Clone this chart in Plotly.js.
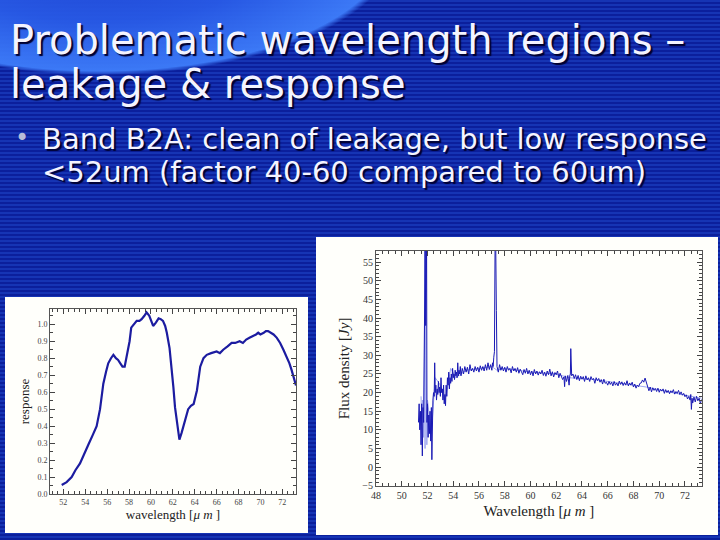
<!DOCTYPE html>
<html>
<head>
<meta charset="utf-8">
<script src="https://cdn.plot.ly/plotly-3.0.1.min.js"></script>
<style>
  html, body { margin:0; padding:0; }
  #slide {
    width:720px; height:540px; position:relative; overflow:hidden;
    background:
      radial-gradient(ellipse 300px 133px at 100px -58px, rgba(28,62,205,0.95) 0%, rgba(40,90,230,0.95) 60%, rgba(62,125,250,0.95) 97%, rgba(0,0,0,0) 100%),
      repeating-linear-gradient(to bottom, #1634b4 0px, #1634b4 2px, #0b1f9c 2px, #0b1f9c 4px);
  }
  #chart { position:absolute; left:0; top:0; width:720px; height:540px; }
</style>
</head>
<body>
<div id="slide"><div id="chart"></div></div>
<script>
// left panel: relative spectral response
const respX = [51.85, 52.3, 52.76, 53.1, 53.52, 53.9, 54.28, 54.7, 55.04, 55.35, 55.65, 55.9, 56.1, 56.35, 56.57, 56.8, 57.0, 57.2, 57.4, 57.6, 57.75, 57.9, 58.05, 58.2, 58.45, 58.7, 58.95, 59.15, 59.4, 59.6, 59.85, 60.05, 60.2, 60.45, 60.7, 60.9, 61.1, 61.3, 61.45, 61.7, 61.9, 62.05, 62.2, 62.4, 62.6, 62.8, 62.96, 63.2, 63.4, 63.65, 63.9, 64.2, 64.5, 64.8, 65.1, 65.5, 66.0, 66.3, 66.6, 67.0, 67.37, 67.7, 68.1, 68.4, 68.7, 69.0, 69.35, 69.6, 69.8, 70.0, 70.3, 70.5, 70.7, 70.95, 71.2, 71.5, 71.8, 72.1, 72.4, 72.65, 72.85, 73.05, 73.25];
const respY = [0.053, 0.07, 0.10, 0.14, 0.18, 0.23, 0.29, 0.35, 0.40, 0.50, 0.65, 0.72, 0.77, 0.80, 0.82, 0.80, 0.79, 0.77, 0.75, 0.75, 0.80, 0.85, 0.90, 0.98, 1.00, 1.02, 1.02, 1.03, 1.05, 1.07, 1.05, 1.01, 0.99, 1.01, 1.035, 1.03, 1.02, 0.99, 0.95, 0.86, 0.75, 0.63, 0.51, 0.40, 0.32, 0.36, 0.40, 0.45, 0.50, 0.52, 0.53, 0.61, 0.75, 0.80, 0.82, 0.83, 0.84, 0.83, 0.85, 0.87, 0.89, 0.89, 0.90, 0.89, 0.91, 0.92, 0.93, 0.94, 0.95, 0.94, 0.95, 0.96, 0.96, 0.95, 0.94, 0.92, 0.89, 0.85, 0.81, 0.77, 0.73, 0.69, 0.64];
const respTicks = [52, 54, 56, 58, 60, 62, 64, 66, 68, 70, 72];

// right panel: flux density spectrum (main and faint overlay)
const fluxX = [51.30, 51.35, 51.40, 51.45, 51.50, 51.55, 51.60, 51.65, 51.70, 51.75, 51.78, 51.82, 51.86, 51.90, 51.93, 51.96, 52.00, 52.05, 52.10, 52.15, 52.20, 52.25, 52.30, 52.34, 52.38, 52.42, 52.47, 52.52, 52.56, 52.60, 52.65, 52.70, 52.75, 52.80, 52.85, 52.90, 52.95, 53.00, 53.05, 53.10, 53.15, 53.20, 53.25, 53.30, 53.35, 53.40, 53.45, 53.50, 53.55, 53.60, 53.65, 53.70, 53.75, 53.80, 53.85, 53.90, 53.95, 54.00, 54.05, 54.10, 54.15, 54.20, 54.25, 54.30, 54.35, 54.40, 54.45, 54.50, 54.55, 54.60, 54.70, 54.80, 54.90, 55.00, 55.10, 55.20, 55.30, 55.40, 55.50, 55.60, 55.70, 55.80, 55.90, 56.00, 56.10, 56.20, 56.30, 56.40, 56.50, 56.60, 56.70, 56.80, 56.90, 57.00, 57.05, 57.10, 57.15, 57.20, 57.25, 57.30, 57.35, 57.40, 57.50, 57.60, 57.70, 57.80, 57.90, 58.00, 58.10, 58.20, 58.30, 58.40, 58.50, 58.60, 58.70, 58.80, 58.90, 59.00, 59.10, 59.20, 59.30, 59.40, 59.50, 59.60, 59.70, 59.80, 59.90, 60.00, 60.10, 60.20, 60.30, 60.40, 60.50, 60.60, 60.70, 60.80, 60.90, 61.00, 61.10, 61.20, 61.30, 61.40, 61.50, 61.60, 61.70, 61.80, 61.90, 62.00, 62.10, 62.20, 62.30, 62.40, 62.50, 62.60, 62.65, 62.70, 62.80, 62.90, 63.00, 63.05, 63.10, 63.13, 63.17, 63.20, 63.30, 63.40, 63.50, 63.60, 63.70, 63.80, 63.90, 64.00, 64.10, 64.20, 64.30, 64.40, 64.50, 64.60, 64.70, 64.80, 64.90, 65.00, 65.10, 65.20, 65.30, 65.40, 65.50, 65.60, 65.70, 65.80, 65.90, 66.00, 66.10, 66.20, 66.30, 66.40, 66.50, 66.60, 66.70, 66.80, 66.90, 67.00, 67.10, 67.20, 67.30, 67.40, 67.50, 67.60, 67.70, 67.80, 67.90, 68.00, 68.10, 68.20, 68.30, 68.40, 68.50, 68.60, 68.70, 68.80, 68.90, 69.00, 69.10, 69.20, 69.30, 69.40, 69.50, 69.60, 69.70, 69.80, 69.90, 70.00, 70.10, 70.20, 70.30, 70.40, 70.50, 70.60, 70.70, 70.80, 70.90, 71.00, 71.10, 71.20, 71.30, 71.40, 71.50, 71.60, 71.70, 71.80, 71.90, 72.00, 72.10, 72.20, 72.30, 72.40, 72.45, 72.50, 72.55, 72.60, 72.70, 72.80, 72.90, 73.00, 73.10, 73.20, 73.30];
const fluxY = [12, 17, 10, 15, 6, 17, 3, 16, 12, 30, 60, 60, 38, 60, 60, 12, 17, 8, 14, 9, 15, 7, 16, 2, 17, 18, 20, 19, 28, 20, 22, 18, 21, 19.5, 23, 20, 21.5, 19, 24, 20, 21, 18, 22, 17, 19.5, 16.5, 22, 19, 24, 22, 25.5, 21, 24, 22.5, 25, 23, 26.5, 24, 25, 23.5, 26, 24.5, 25.5, 24, 28, 24.5, 26, 25, 27, 24.5, 26.5, 25, 27, 25.5, 26.8, 25, 27.5, 25.8, 26.5, 25.5, 27, 25.8, 26.8, 25.5, 27.2, 26, 27, 25.8, 27.5, 26, 28, 26.2, 27.5, 26, 28, 27, 29.5, 31, 60, 60, 42, 27, 25.5, 27.5, 26, 27, 25.8, 26.8, 25.5, 27, 26, 26.5, 25.3, 27, 25.8, 26.5, 25.5, 26.7, 25.2, 26.3, 25.6, 24.8, 26.2, 25.2, 26.5, 25, 26, 24.8, 25.8, 24.5, 26.2, 25, 25.8, 24.7, 25.6, 25, 26, 24.6, 25.5, 24.4, 25.8, 24.8, 26.3, 24.5, 25.6, 24.2, 25.4, 24.8, 25.8, 24, 25.2, 24.5, 23.5, 24.2, 21.6, 24.5, 23, 24.6, 22, 24.5, 25, 31.8, 29, 24.5, 25, 23.8, 24.8, 23.5, 24.6, 23.2, 24.4, 23.6, 24.3, 23, 24.5, 23.4, 24, 23, 24.3, 23.5, 23.8, 22.5, 24, 23.2, 23.8, 22.8, 23.5, 22.3, 23.6, 22.5, 22.8, 22, 23, 22.2, 22.8, 21.8, 23, 22, 22.6, 21.8, 23.1, 22.2, 22.9, 21.9, 22.7, 22, 23.2, 21.8, 22.6, 22, 22.8, 21.5, 22.3, 21.2, 22, 21.6, 22.5, 22.6, 23.4, 22.8, 23.9, 22.5, 21.8, 20.5, 21.5, 20.2, 21.3, 20.6, 21.1, 20.3, 21.2, 20.1, 20.9, 20.4, 21, 19.8, 20.8, 20, 20.6, 19.7, 20.5, 20, 20.8, 19.6, 20.3, 19.8, 20.6, 19.5, 20.2, 19.3, 19.8, 18.9, 19.4, 18.3, 19, 18, 19.5, 15.5, 18.5, 17.2, 18.8, 17.5, 19, 17.8, 18.5, 17, 18.2];
const faintX = [51.50, 51.55, 51.62, 51.70, 51.76, 51.79, 51.81, 51.84, 51.88, 51.95, 52.00, 52.10, 52.30, 52.60, 53.00, 53.30, 53.50, 53.80, 54.20, 55.00, 56.00, 57.00, 57.40, 58.00, 60.00, 62.00, 63.00, 65.00, 67.00, 69.00, 71.00, 73.30];
const faintY = [19, 12, 18, 8, 30, 60, 5, 60, 30, 6, 18, 15, 9, 24, 22, 18, 20, 26.5, 24, 26, 26.5, 27, 26, 26.5, 25.5, 25, 24, 23.5, 22.5, 21.5, 20, 18.5];
const fluxTicks = [48, 50, 52, 54, 56, 58, 60, 62, 64, 66, 68, 70, 72];

const serif = 'Liberation Serif, DejaVu Serif, serif';
const sans = 'DejaVu Sans, Verdana, sans-serif';
const shadow = '2px 2px 1px #000030';

function axisBase(extra){
  return Object.assign({
    showgrid:false, zeroline:false, showline:true, linecolor:'#555', linewidth:1,
    mirror:'allticks', ticks:'inside', ticklen:5, tickcolor:'#444', tickwidth:1,
    tickfont:{family:serif, color:'#333'}
  }, extra);
}

function slideText(text, px, py, size, color){
  return { text:text, xref:'paper', yref:'paper', x:px/720, y:1-py/540,
    xanchor:'left', yanchor:'middle', showarrow:false,
    font:{family:sans, size:size, color:color || '#f4f4ff', shadow: color ? 'none' : shadow} };
}

const data = [
  { x: respX, y: respY, xaxis:'x', yaxis:'y', mode:'lines', line:{color:'#1c1ca0', width:2.2}, hoverinfo:'skip' },
  { x: faintX, y: faintY, xaxis:'x2', yaxis:'y2', mode:'lines', line:{color:'#a0a8f0', width:1}, hoverinfo:'skip' },
  { x: fluxX, y: fluxY, xaxis:'x2', yaxis:'y2', mode:'lines', line:{color:'#1a1ab4', width:1}, hoverinfo:'skip' }
];

const layout = {
  width:720, height:540, margin:{l:0, r:0, t:0, b:0},
  paper_bgcolor:'rgba(0,0,0,0)', plot_bgcolor:'#fff', showlegend:false,
  xaxis: axisBase({ domain:[50/720, 296/720], anchor:'y', range:[50.78, 73.25],
    tickvals: respTicks, tickfont:{family:serif, size:8, color:'#444'},
    minor:{ dtick:0.5, ticks:'inside', ticklen:3, tickcolor:'#444' },
    title:{ text:'wavelength [<i>μ m</i> ]', font:{family:serif, size:13, color:'#222'}, standoff:3 } }),
  yaxis: axisBase({ domain:[1-494/540, 1-309/540], anchor:'x', range:[0, 1.09],
    dtick:0.1, tickformat:'.1f', tickfont:{family:serif, size:8, color:'#444'},
    minor:{ dtick:0.05, ticks:'inside', ticklen:3, tickcolor:'#444' },
    title:{ text:'response', font:{family:serif, size:13, color:'#222'}, standoff:4 } }),
  xaxis2: axisBase({ domain:[376/720, 701.7/720], anchor:'y2', range:[48, 73.3],
    tickvals: fluxTicks, tickfont:{family:serif, size:10, color:'#333'},
    minor:{ dtick:0.5, ticks:'inside', ticklen:3, tickcolor:'#444' },
    title:{ text:'Wavelength [<i>μ m</i> ]', font:{family:serif, size:15, color:'#222'}, standoff:5 } }),
  yaxis2: axisBase({ domain:[1-485.8/540, 1-251/540], anchor:'x2', range:[-5, 58],
    dtick:5, tickfont:{family:serif, size:10, color:'#333'},
    minor:{ dtick:1, ticks:'inside', ticklen:3, tickcolor:'#444' },
    title:{ text:'Flux density [<i>Jy</i>]', font:{family:serif, size:15, color:'#222'}, standoff:9 } }),
  shapes: [
    { type:'rect', xref:'paper', yref:'paper', x0:5/720, x1:308/720, y0:1-533/540, y1:1-297/540,
      fillcolor:'#fffffb', line:{width:0}, layer:'below' },
    { type:'rect', xref:'paper', yref:'paper', x0:316/720, x1:718/720, y0:1-535/540, y1:1-237/540,
      fillcolor:'#fffffb', line:{width:0}, layer:'below' }
  ],
  annotations: [
    slideText('Problematic wavelength regions –', 8, 40, 40),
    slideText('leakage & response', 8, 84, 40),
    slideText('•', 13, 138, 24, '#b8bcd8'),
    slideText('Band B2A: clean of leakage, but low response', 40, 139, 29),
    slideText('<52um (factor 40-60 compared to 60um)', 40, 172, 29)
  ]
};

Plotly.newPlot('chart', data, layout, {displayModeBar:false, staticPlot:true});
</script>
</body>
</html>
